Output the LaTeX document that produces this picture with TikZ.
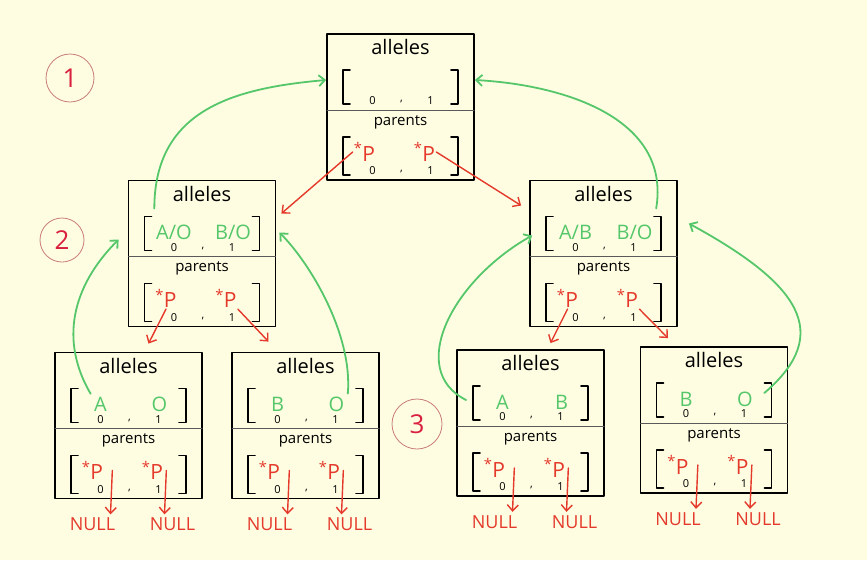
\documentclass[tikz,border=0pt]{standalone}
\usepackage{fontspec}
\setmainfont{Open Sans}
\usetikzlibrary{arrows.meta}
\definecolor{paper}{HTML}{FEFDE2}
\definecolor{allelegreen}{HTML}{55C76A}
\definecolor{ptrred}{HTML}{E4392B}
\definecolor{ringred}{HTML}{C97B7B}
\definecolor{numred}{HTML}{D9203E}
\begin{document}
\begin{tikzpicture}[x=1pt, y=-1pt, line join=round, line cap=round, >={Straight Barb[length=6pt,width=11pt]},
		box/.style={draw, line width=1.8pt, minimum width=147pt, minimum height=146pt, inner sep=0pt},
		divider/.style={draw=black!65, line width=1pt},
		brack/.style={line width=1.8pt},
		title/.style={font=\fontsize{20}{24}\selectfont},
		sub/.style={font=\fontsize{15}{18}\selectfont},
		val/.style={text=allelegreen, font=\fontsize{20}{24}\selectfont},
		idx/.style={font=\fontsize{11}{13}\selectfont},
		ptrtext/.style={text=ptrred, font=\fontsize{21}{25}\selectfont, inner sep=1pt},
		nullnode/.style={text=ptrred, font=\fontsize{18}{21}\selectfont},
		ptr/.style={->, draw=ptrred, line width=1.4pt},
		link/.style={->, draw=allelegreen, line width=1.8pt},
		stepnum/.style={draw=ringred, line width=0.8pt, circle, minimum size=46pt, text=numred, font=\fontsize{26}{30}\selectfont}]
		\fill[paper] (0,0) rectangle (867,560);
		\useasboundingbox (0,0) rectangle (867,560);
		\foreach \n/\x/\y/\va/\vb in {root/400.5/107/{}/{}, l2l/202/253.5/{A/O}/{B/O}, l2r/603.5/253.5/{A/B}/{B/O}, ll/128.5/425.5/A/O, lr/305.5/425.5/B/O, rl/530.5/423/A/B, rr/714/420/B/O} {
			\begin{scope}[shift={(\x,\y)}]
				\node[box] (\n) at (0,0) {};
				\draw[divider] (-73.5,3) -- (73.5,3);
				\node[title] (\n-al) at (0,-60) {alleles};
				\draw[brack] (-50.5,-37) -- (-57.5,-37) -- (-57.5,-3) -- (-50.5,-3);
				\draw[brack] (50.5,-37) -- (57.5,-37) -- (57.5,-3) -- (50.5,-3);
				\node[val] (\n-a0) at (-28,-21) {\va};
				\node[val] (\n-a1) at (31,-21) {\vb};
				\node[idx] (\n-i0) at (-28,-6) {0};
				\node[idx] (\n-c0) at (1,-5) {,};
				\node[idx] (\n-i1) at (30,-6) {1};
				\node[sub] (\n-pa) at (0,15) {parents};
				\draw[brack] (-50.5,30) -- (-57.5,30) -- (-57.5,68) -- (-50.5,68);
				\draw[brack] (50.5,30) -- (57.5,30) -- (57.5,68) -- (50.5,68);
				\node[ptrtext] (\n-p0) at (-36,45) {\textsuperscript{*}P};
				\node[ptrtext] (\n-p1) at (24,45) {\textsuperscript{*}P};
				\node[idx] (\n-j0) at (-28,64) {0};
				\node[idx] (\n-c1) at (1,65) {,};
				\node[idx] (\n-j1) at (30,64) {1};
			\end{scope}
		}
		\foreach \n in {ll,lr,rl,rr} {
			\node[nullnode] (\n-n0) at ([shift={(-36,25)}]\n.south) {NULL};
			\node[nullnode] (\n-n1) at ([shift={(44,25)}]\n.south) {NULL};
			\draw[ptr] ([xshift=8pt]\n-p0.east) -- ([xshift=18pt]\n-n0.north);
			\draw[ptr] ([xshift=2pt]\n-p1.east) -- ([xshift=-8pt]\n-n1.north);
		}
		\draw[ptr] (root-p0.west) -- ([shift={(5,-40)}]l2l.east);
		\draw[ptr] (root-p1.east) -- ([shift={(-8,-48)}]l2r.west);
		\draw[ptr] (l2l-p0.south) -- ([shift={(20,-8)}]ll.north);
		\draw[ptr] (l2l-p1.south east) -- ([shift={(-37,-10)}]lr.north);
		\draw[ptr] (l2r-p0.south) -- ([shift={(20,-6)}]rl.north);
		\draw[ptr] (l2r-p1.south east) -- ([shift={(-46,-8)}]rr.north);
		\draw[link] ([shift={(-15,15)}]l2l-al.west) .. controls +(0,-100) and +(-90,8) .. ([shift={(0,-27)}]root.west);
		\draw[link] ([shift={(20,15)}]l2r-al.east) .. controls +(15,-90) and +(90,5) .. ([shift={(0,-27)}]root.east);
		\draw[link] (ll-a0.north west) .. controls +(-35,-60) and +(-40,40) .. ([shift={(-9,-14)}]l2l.west);
		\draw[link] (lr-a1.north east) .. controls +(5,-60) and +(30,30) .. ([shift={(3,-21)}]l2l.east);
		\draw[link] ([shift={(10,-23)}]rl.west) .. controls +(-60,-30) and +(-80,45) .. ([shift={(3,-18)}]l2r.west);
		\draw[link] ([shift={(8,-6)}]rr-a1.east) .. controls +(70,-60) and +(110,60) .. ([shift={(11,-30)}]l2r.east);
		\node[stepnum, minimum size=48pt] (num1) at (70,78) {1};
		\node[stepnum, minimum size=44pt] (num2) at (62,240) {2};
		\node[stepnum, minimum size=50pt] (num3) at (417,424) {3};
	\end{tikzpicture}
\end{document}
